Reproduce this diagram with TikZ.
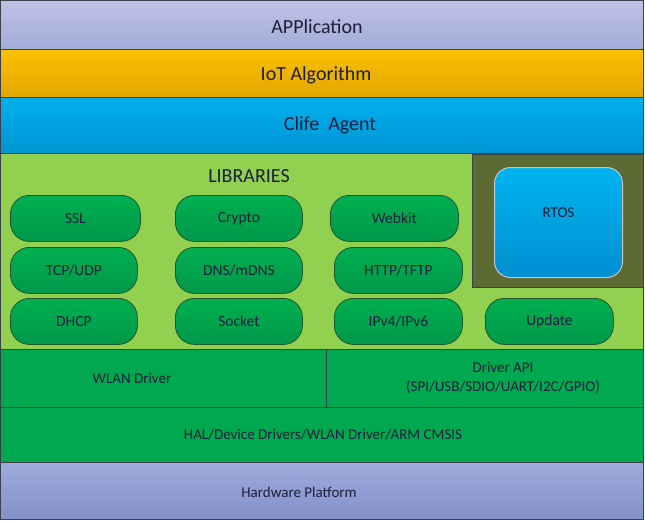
\documentclass[tikz,border=0pt]{standalone}
\usepackage{fontspec}
\setmainfont{Carlito}
\usetikzlibrary{positioning, calc}
\definecolor{AppTop}{HTML}{BDC3E6}
\definecolor{AppBot}{HTML}{A3ABD8}
\definecolor{IotTop}{HTML}{FAC000}
\definecolor{IotBot}{HTML}{E2A700}
\definecolor{AgentTop}{HTML}{00B0EE}
\definecolor{AgentBot}{HTML}{0095D2}
\definecolor{LibGreen}{HTML}{92D050}
\definecolor{Olive}{HTML}{5E6A33}
\definecolor{PillTop}{HTML}{00B050}
\definecolor{PillBot}{HTML}{00984A}
\definecolor{PillEdge}{HTML}{22552C}
\definecolor{DrvGreen}{HTML}{00A84F}
\definecolor{RtosTop}{HTML}{00B4F0}
\definecolor{RtosBot}{HTML}{008FD0}
\definecolor{HwTop}{HTML}{9EABDC}
\definecolor{HwBot}{HTML}{8391CA}
\definecolor{Edge}{HTML}{3C4048}
\definecolor{Ink}{HTML}{1B1F3B}
\tikzset{
    band/.style={rectangle, draw=Edge, line width=0.8pt, anchor=north west, inner sep=0pt},
    pill/.style={rectangle, rounded corners=19pt, draw=PillEdge, line width=0.8pt, top color=PillTop, bottom color=PillBot, minimum height=46pt, anchor=north west, inner sep=0pt, text=Ink, font=\fontsize{15.5}{18}\selectfont},
    bigtext/.style={text=Ink, font=\fontsize{20}{24}\selectfont},
    smalltext/.style={text=Ink, align=center, font=\fontsize{15}{19}\selectfont},
}

\begin{document}
\begin{tikzpicture}[x=1pt, y=-1pt]
    \useasboundingbox (0,0) rectangle (645,522);

    % --- Strati superiori ---
    \node[band, top color=AppTop, bottom color=AppBot, minimum width=643pt, minimum height=49pt] (app) at (0,0) {};
    \node[band, top color=IotTop, bottom color=IotBot, minimum width=643pt, minimum height=48pt] (iot) at (0,49) {};
    \node[band, top color=AgentTop, bottom color=AgentBot, minimum width=643pt, minimum height=56pt] (agent) at (0,97) {};

    \node[bigtext] (apptext) at (317,27) {APPlication};
    \node[bigtext] (iottext) at (316,75) {IoT Algorithm};
    \node[bigtext] (agenttext) at (330,125) {Clife\ \ Agent};

    % --- Librerie ---
    \node[band, fill=LibGreen, minimum width=643pt, minimum height=196pt] (libs) at (0,153) {};
    \node[bigtext] (libtext) at (249,176) {LIBRARIES};

    % RTOS
    \node[band, fill=Olive, minimum width=171pt, minimum height=133pt] (rtosbg) at (472,154) {};
    \node[rectangle, rounded corners=16pt, draw=gray!45, line width=1pt, top color=RtosTop, bottom color=RtosBot, minimum width=128pt, minimum height=110pt, anchor=north west] (rtos) at (494,167) {};
    \node[smalltext] (rtostext) at ([yshift=10pt]rtos.center) {RTOS};

    % Moduli
    \foreach \x/\y/\w/\name/\txt in {10/195/130/ssl/SSL, 175/195/127/crypto/Crypto, 330/195/128/webkit/Webkit,
                                      10/247/127/tcp/TCP\slash UDP, 175/247/127/dns/DNS\slash mDNS, 334/247/128/http/HTTP\slash TFTP,
                                      10/298/127/dhcp/DHCP, 175/298/127/socket/Socket, 334/298/128/ip/IPv4\slash IPv6, 485/298/128/update/Update} {
        \node[pill, minimum width=\w pt] (\name) at (\x,\y) {\txt};
    }

    % --- Driver ---
    \node[band, fill=DrvGreen, minimum width=325.5pt, minimum height=58pt] (wlan) at (0,349) {};
    \node[band, fill=DrvGreen, minimum width=317.5pt, minimum height=58pt] (drvapi) at (325.5,349) {};
    \node[smalltext] (wlantext) at (132,378) {WLAN Driver};
    \node[smalltext] (drvapitext) at (503,378) {Driver API\\(SPI/USB/SDIO/UART/I2C/GPIO)};

    \node[band, fill=DrvGreen, minimum width=643pt, minimum height=55pt] (hal) at (0,407) {};
    \node[smalltext] (haltext) at (323,435) {HAL/Device Drivers/WLAN Driver/ARM CMSIS};

    % --- Hardware ---
    \node[band, top color=HwTop, bottom color=HwBot, minimum width=643pt, minimum height=57pt] (hw) at (0,462) {};
    \node[smalltext] (hwtext) at (299,492) {Hardware Platform};
\end{tikzpicture}
\end{document}
